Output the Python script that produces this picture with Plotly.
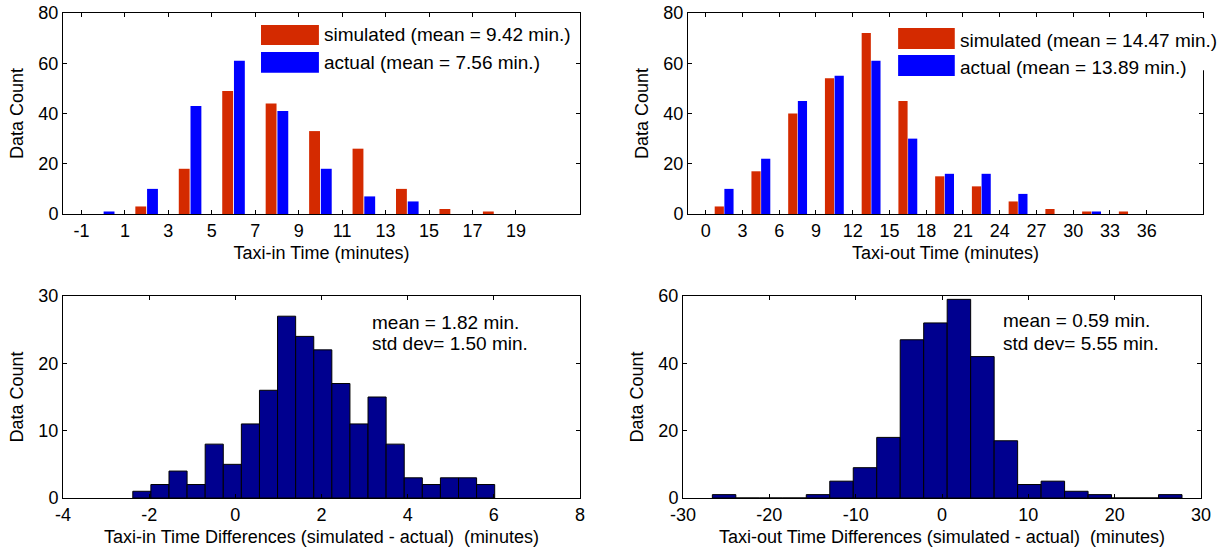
import plotly.graph_objects as go

# ---------------- data ----------------
# Top-left: taxi-in time histogram (simulated vs actual)
taxi_in_centers = [0, 2, 4, 6, 8, 10, 12, 14, 16, 18]
taxi_in_sim = [0, 3, 18, 49, 44, 33, 26, 10, 2, 1]
taxi_in_act = [1, 10, 43, 61, 41, 18, 7, 5, 0, 0]
taxi_in_ticks = [-1, 1, 3, 5, 7, 9, 11, 13, 15, 17, 19]

# Top-right: taxi-out time histogram (simulated vs actual)
taxi_out_centers = [1.5, 4.5, 7.5, 10.5, 13.5, 16.5, 19.5, 22.5, 25.5, 28.5, 31.5, 34.5]
taxi_out_sim = [3, 17, 40, 54, 72, 45, 15, 11, 5, 2, 1, 1]
taxi_out_act = [10, 22, 45, 55, 61, 30, 16, 16, 8, 0, 1, 0]
taxi_out_ticks = [0, 3, 6, 9, 12, 15, 18, 21, 24, 27, 30, 33, 36]

# Bottom-left: taxi-in differences histogram (20 bins)
diff_in_first_edge = -2.38
diff_in_bin_width = 0.42
diff_in_counts = [1, 2, 4, 2, 8, 5, 11, 16, 27, 24, 22, 17, 11, 15, 8, 3, 2, 3, 3, 2]

# Bottom-right: taxi-out differences histogram (20 bins)
diff_out_first_edge = -26.6
diff_out_bin_width = 2.72
diff_out_counts = [1, 0, 0, 0, 1, 5, 9, 18, 47, 52, 59, 42, 17, 4, 5, 2, 1, 0, 0, 1]

legend_in = ["simulated (mean = 9.42 min.)", "actual (mean = 7.56 min.)"]
legend_out = ["simulated (mean = 14.47 min.)", "actual (mean = 13.89 min.)"]
stats_in = ["mean = 1.82 min.", "std dev= 1.50 min."]
stats_out = ["mean = 0.59 min.", "std dev= 5.55 min."]

RED = "rgb(212,42,0)"
BLUE = "rgb(0,0,255)"
NAVY = "rgb(0,0,143)"
FONT = "Liberation Sans, Arial, sans-serif"
FS = 18
FS_TXT = 19

diff_in_centers = [diff_in_first_edge + (i + 0.5) * diff_in_bin_width for i in range(len(diff_in_counts))]
diff_out_centers = [diff_out_first_edge + (i + 0.5) * diff_out_bin_width for i in range(len(diff_out_counts))]

fig = go.Figure()

# top-left
fig.add_trace(go.Bar(x=taxi_in_centers, y=taxi_in_sim, width=0.5, offset=-0.52,
                     marker=dict(color=RED, line=dict(width=0)), name=legend_in[0],
                     xaxis="x", yaxis="y"))
fig.add_trace(go.Bar(x=taxi_in_centers, y=taxi_in_act, width=0.5, offset=0.02,
                     marker=dict(color=BLUE, line=dict(width=0)), name=legend_in[1],
                     xaxis="x", yaxis="y"))
# top-right
fig.add_trace(go.Bar(x=taxi_out_centers, y=taxi_out_sim, width=0.75, offset=-0.77,
                     marker=dict(color=RED, line=dict(width=0)), name=legend_out[0],
                     xaxis="x2", yaxis="y2"))
fig.add_trace(go.Bar(x=taxi_out_centers, y=taxi_out_act, width=0.75, offset=0.02,
                     marker=dict(color=BLUE, line=dict(width=0)), name=legend_out[1],
                     xaxis="x2", yaxis="y2"))
# bottom-left
fig.add_trace(go.Bar(x=diff_in_centers, y=diff_in_counts, width=diff_in_bin_width,
                     marker=dict(color=NAVY, line=dict(color="black", width=1)),
                     name="taxi-in differences", xaxis="x3", yaxis="y3"))
# bottom-right
fig.add_trace(go.Bar(x=diff_out_centers, y=diff_out_counts, width=diff_out_bin_width,
                     marker=dict(color=NAVY, line=dict(color="black", width=1)),
                     name="taxi-out differences", xaxis="x4", yaxis="y4"))


def xax(domain, rng, ticks, title, anchor):
    return dict(domain=domain, range=rng, tickvals=ticks, ticktext=[str(t) for t in ticks],
                ticks="inside", ticklen=4, tickwidth=1, tickcolor="black",
                showline=True, linecolor="black", linewidth=1, mirror="ticks",
                showgrid=False, zeroline=False, automargin=False, anchor=anchor,
                tickfont=dict(family=FONT, size=FS, color="black"),
                title=dict(text=title, font=dict(family=FONT, size=FS, color="black"), standoff=6))


def yax(domain, rng, ticks, anchor):
    return dict(domain=domain, range=rng, tickvals=ticks, ticktext=[str(t) for t in ticks],
                ticks="inside", ticklen=4, tickwidth=1, tickcolor="black",
                showline=True, linecolor="black", linewidth=1, mirror="ticks",
                showgrid=False, zeroline=False, automargin=False, anchor=anchor,
                tickfont=dict(family=FONT, size=FS, color="black"),
                title=dict(text="Data Count", font=dict(family=FONT, size=FS, color="black"), standoff=10))


W, H = 1224, 550
def dx(a, b):
    return [a / W, b / W]
def dy(top, bottom):
    return [1 - bottom / H, 1 - top / H]

fig.update_layout(
    width=W, height=H, autosize=False,
    margin=dict(l=0, r=0, t=0, b=0),
    paper_bgcolor="white", plot_bgcolor="white",
    showlegend=False, barmode="overlay",
    font=dict(family=FONT, size=FS, color="black"),
    xaxis=xax(dx(63, 580), [-1.85, 21.95], taxi_in_ticks, "Taxi-in Time (minutes)", "y"),
    yaxis=yax(dy(13, 214), [0, 80], [0, 20, 40, 60, 80], "x"),
    xaxis2=xax(dx(688, 1203), [-1.45, 40.6], taxi_out_ticks, "Taxi-out Time (minutes)", "y2"),
    yaxis2=yax(dy(13, 214), [0, 80], [0, 20, 40, 60, 80], "x2"),
    xaxis3=xax(dx(63, 580), [-4, 8], [-4, -2, 0, 2, 4, 6, 8],
               "Taxi-in Time Differences (simulated - actual)\u00a0 (minutes)", "y3"),
    yaxis3=yax(dy(296, 498), [0, 30], [0, 10, 20, 30], "x3"),
    xaxis4=xax(dx(683, 1201), [-30, 30], [-30, -20, -10, 0, 10, 20, 30],
               "Taxi-out Time Differences (simulated - actual)\u00a0 (minutes)", "y4"),
    yaxis4=yax(dy(296, 498), [0, 60], [0, 20, 40, 60], "x4"),
)

shapes = []
annotations = []
TXT = dict(family=FONT, size=FS_TXT, color="black")

# Legend for top-left (patches + labels)
shapes.append(dict(type="rect", xref="x domain", yref="y domain", x0=0.383, x1=0.495, y0=0.841, y1=0.940,
                   fillcolor=RED, line=dict(width=0), layer="above"))
shapes.append(dict(type="rect", xref="x domain", yref="y domain", x0=0.383, x1=0.495, y0=0.703, y1=0.806,
                   fillcolor=BLUE, line=dict(width=0), layer="above"))
annotations.append(dict(xref="x domain", yref="y domain", x=0.500, y=0.891, text=legend_in[0],
                        showarrow=False, xanchor="left", yanchor="middle", font=TXT))
annotations.append(dict(xref="x domain", yref="y domain", x=0.500, y=0.756, text=legend_in[1],
                        showarrow=False, xanchor="left", yanchor="middle", font=TXT))

# Legend for top-right (white box hides the right axis line, as in the original)
shapes.append(dict(type="rect", xref="x2 domain", yref="y2 domain", x0=0.39, x1=1.02, y0=0.715, y1=0.975,
                   fillcolor="white", line=dict(width=0), layer="above"))
shapes.append(dict(type="rect", xref="x2 domain", yref="y2 domain", x0=0.408, x1=0.518, y0=0.821, y1=0.925,
                   fillcolor=RED, line=dict(width=0), layer="above"))
shapes.append(dict(type="rect", xref="x2 domain", yref="y2 domain", x0=0.408, x1=0.518, y0=0.687, y1=0.791,
                   fillcolor=BLUE, line=dict(width=0), layer="above"))
annotations.append(dict(xref="x2 domain", yref="y2 domain", x=0.524, y=0.861, text=legend_out[0],
                        showarrow=False, xanchor="left", yanchor="middle", font=TXT))
annotations.append(dict(xref="x2 domain", yref="y2 domain", x=0.524, y=0.731, text=legend_out[1],
                        showarrow=False, xanchor="left", yanchor="middle", font=TXT))

# Stats text
annotations.append(dict(xref="x3", yref="y3", x=3.12, y=26.0, text=stats_in[0],
                        showarrow=False, xanchor="left", yanchor="middle", font=TXT))
annotations.append(dict(xref="x3", yref="y3", x=3.12, y=23.0, text=stats_in[1],
                        showarrow=False, xanchor="left", yanchor="middle", font=TXT))
annotations.append(dict(xref="x4", yref="y4", x=6.8, y=52.7, text=stats_out[0],
                        showarrow=False, xanchor="left", yanchor="middle", font=TXT))
annotations.append(dict(xref="x4", yref="y4", x=6.8, y=46.0, text=stats_out[1],
                        showarrow=False, xanchor="left", yanchor="middle", font=TXT))

fig.update_layout(shapes=shapes, annotations=annotations)

fig.write_html("out.html", config={"displayModeBar": False},
               post_script="document.body.style.margin='0';")
